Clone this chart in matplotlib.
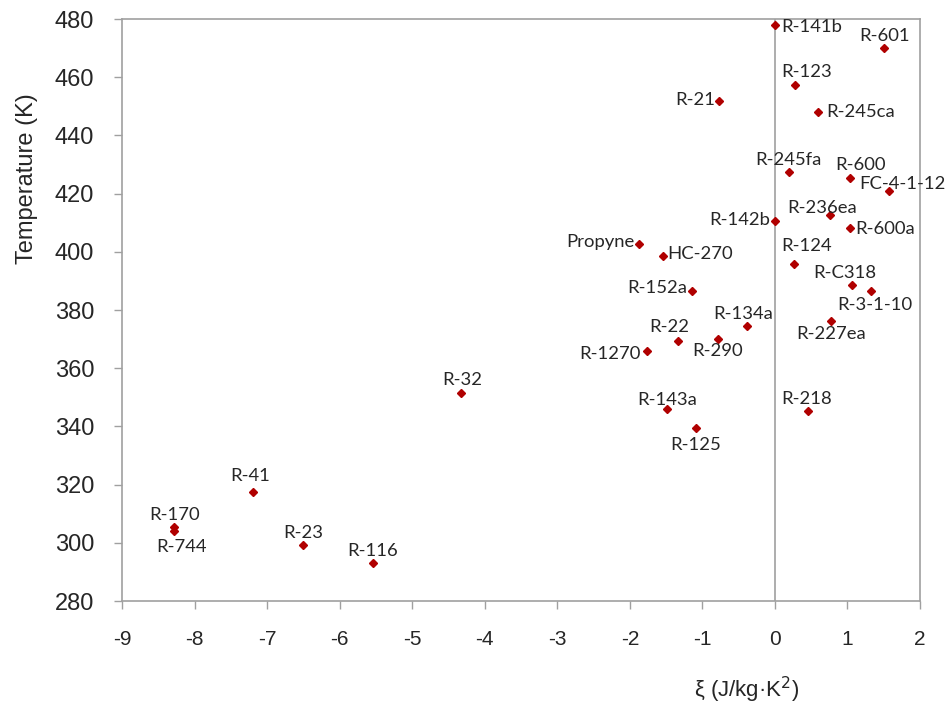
import matplotlib.pyplot as plt

plt.rcParams['axes.unicode_minus'] = False

# Refrigerants: xi (J/kg.K^2) vs temperature (K)
names = ['R-141b', 'R-601', 'R-123', 'R-21', 'R-245ca', 'R-245fa', 'R-600',
         'FC-4-1-12', 'R-236ea', 'R-142b', 'R-600a', 'Propyne', 'HC-270',
         'R-124', 'R-C318', 'R-3-1-10', 'R-152a', 'R-227ea', 'R-134a',
         'R-290', 'R-22', 'R-1270', 'R-143a', 'R-125', 'R-218', 'R-32',
         'R-41', 'R-170', 'R-744', 'R-23', 'R-116']
xi = [0.00, 1.51, 0.27, -0.77, 0.60, 0.19, 1.03,
      1.57, 0.76, 0.00, 1.03, -1.87, -1.54,
      0.26, 1.06, 1.33, -1.14, 0.77, -0.39,
      -0.79, -1.33, -1.77, -1.49, -1.09, 0.45, -4.33,
      -7.20, -8.29, -8.28, -6.50, -5.54]
temp = [478.0, 470.0, 457.2, 451.9, 447.9, 427.4, 425.4,
        420.9, 412.6, 410.6, 408.1, 402.6, 398.7,
        395.7, 388.5, 386.6, 386.6, 376.3, 374.6,
        370.1, 369.5, 365.8, 346.0, 339.3, 345.2, 351.5,
        317.4, 305.4, 304.2, 299.4, 293.1]

# label placement: (dx, dy down, alignment) in pixels from the marker
offsets = {
    'R-141b': (6, 2, 'left'), 'R-601': (0, -12, 'center'),
    'R-123': (12, -13, 'center'), 'R-21': (-4, -1, 'right'),
    'R-245ca': (8, 0, 'left'), 'R-245fa': (0, -12, 'center'),
    'R-600': (11, -13, 'center'), 'FC-4-1-12': (-30, -7, 'left'),
    'R-236ea': (-8, -7, 'center'), 'R-142b': (-5, -1, 'right'),
    'R-600a': (6, 1, 'left'), 'Propyne': (-5, -2, 'right'),
    'HC-270': (4, -2, 'left'), 'R-124': (13, -18, 'center'),
    'R-C318': (-7, -12, 'center'), 'R-3-1-10': (3, 14, 'center'),
    'R-152a': (-5, -3, 'right'), 'R-227ea': (0, 13, 'center'),
    'R-134a': (-3, -12, 'center'), 'R-290': (0, 12, 'center'),
    'R-22': (-9, -14, 'center'), 'R-1270': (-6, 3, 'right'),
    'R-143a': (0, -9, 'center'), 'R-125': (0, 17, 'center'),
    'R-218': (-1, -12, 'center'), 'R-32': (1, -13, 'center'),
    'R-41': (-2, -16, 'center'), 'R-170': (1, -12, 'center'),
    'R-744': (7, 16, 'center'), 'R-23': (0, -12, 'center'),
    'R-116': (0, -12, 'center'),
}

fig = plt.figure(figsize=(9.48, 7.10), dpi=100)
ax = fig.add_axes([0.1287, 0.1535, 0.8418, 0.8197])

ax.plot(xi, temp, linestyle='none', marker='D', markersize=4.5,
        color='#b00000', zorder=3)

for name, x, y in zip(names, xi, temp):
    dx, dy, ha = offsets[name]
    ax.annotate(name, (x, y), xytext=(dx, -dy), textcoords='offset pixels',
                ha=ha, va='center', fontsize=13.3, family='Lato',
                color='#262626', zorder=4)

# vertical line at xi = 0
ax.axvline(0, color='#a0a0a0', linewidth=1.2, zorder=1)

ax.set_xlim(-9, 2)
ax.set_ylim(280, 480)
ax.set_xticks(range(-9, 3))
ax.set_yticks(range(280, 481, 20))

for side in ['left', 'right', 'top', 'bottom']:
    ax.spines[side].set_color('#a0a0a0')
    ax.spines[side].set_linewidth(1.2)
ax.tick_params(direction='out', length=6, width=1, color='#a0a0a0',
               labelcolor='#262626')
ax.tick_params(axis='x', pad=15, labelsize=15)
ax.tick_params(axis='y', pad=14, labelsize=17)
for lbl in ax.get_xticklabels() + ax.get_yticklabels():
    lbl.set_family('Liberation Sans')

fig.text(0.028, 0.749, 'Temperature (K)', rotation=90, ha='center',
         va='center', fontsize=17, family='Liberation Sans', color='#262626')
fig.text(0.788, 0.028, 'ξ (J/kg·K$^2$)', ha='center', va='center',
         fontsize=16, family='Liberation Sans', color='#262626')

fig.savefig('out.png', dpi=100)
